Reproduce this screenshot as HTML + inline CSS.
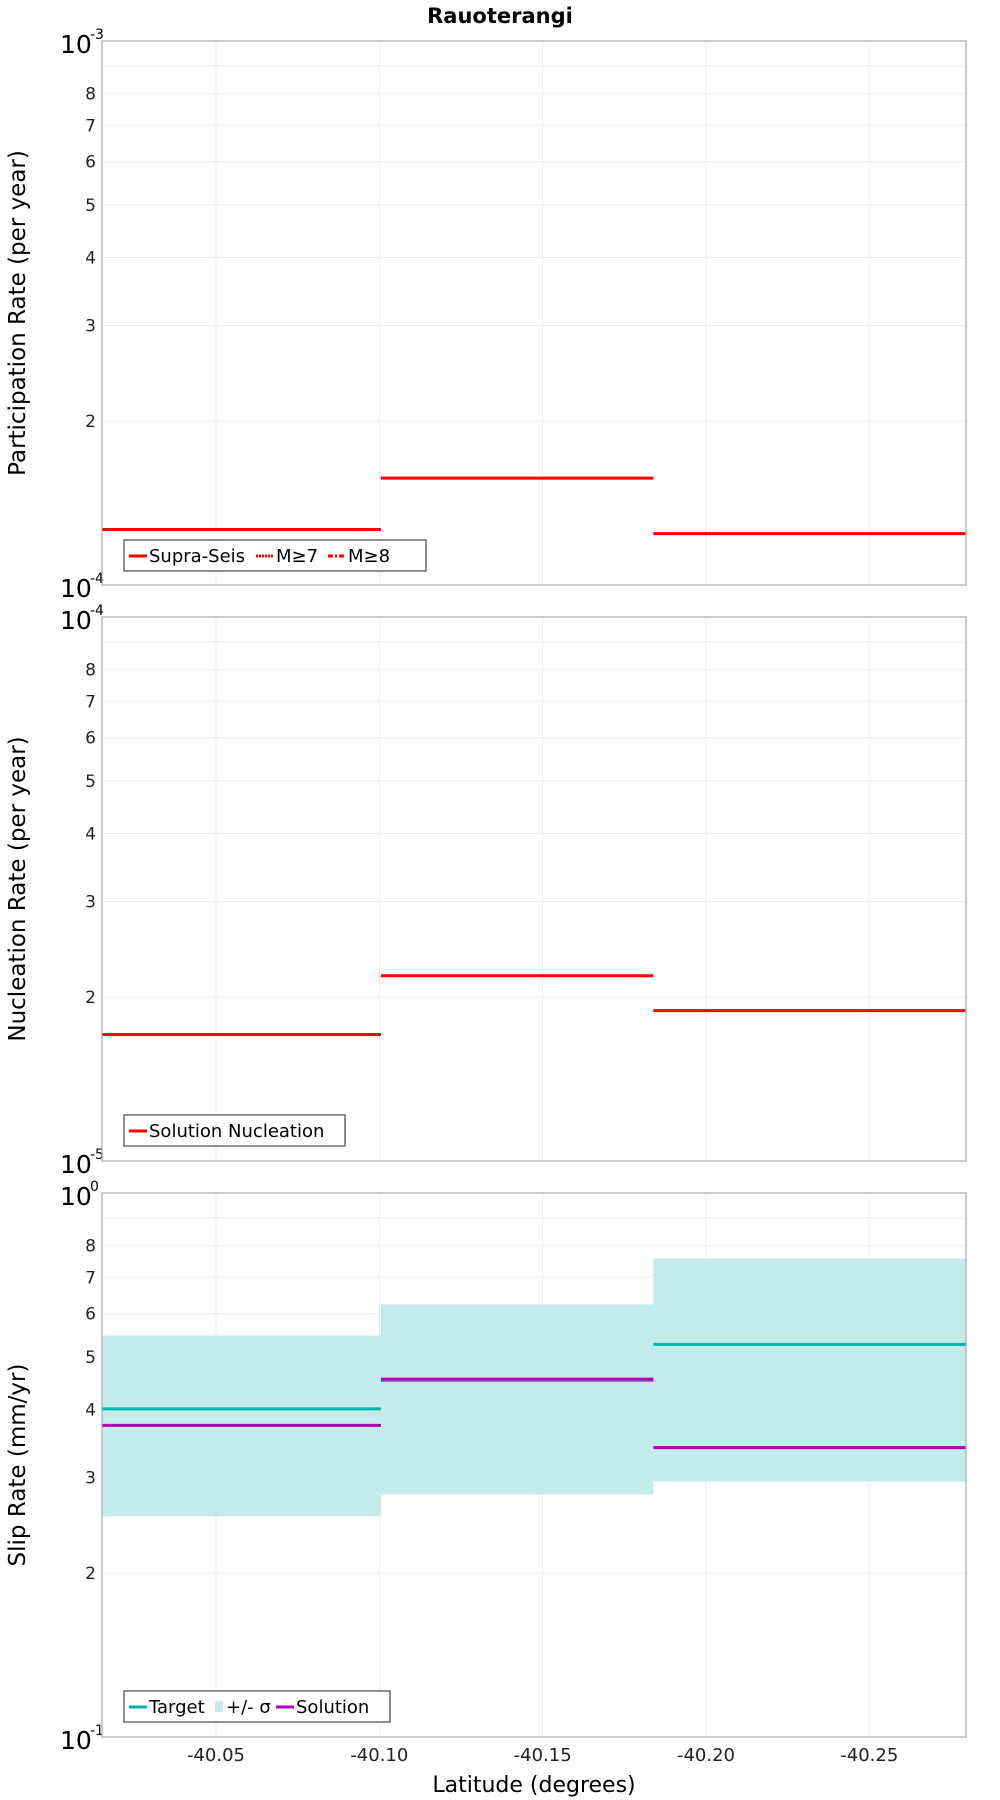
<!DOCTYPE html>
<html><head><meta charset="utf-8"><style>
html,body{margin:0;padding:0;background:#fff;}
svg{display:block;font-family:"DejaVu Sans","Liberation Sans",sans-serif;}
</style></head><body>
<svg id="chart" width="1000" height="1800" viewBox="0 0 1000 1800" xmlns="http://www.w3.org/2000/svg">
<text x="500" y="23" text-anchor="middle" font-size="21" font-weight="bold">Rauoterangi</text>
</svg>
<script>
// data
const latEdges = [-40.0151, -40.1005, -40.1839, -40.2796];
const xTicks = [-40.05, -40.10, -40.15, -40.20, -40.25];
const xTickLabels = ["-40.05", "-40.10", "-40.15", "-40.20", "-40.25"];
const partSupra = [1.265e-4, 1.572e-4, 1.243e-4];
const nuclSolution = [1.708e-5, 2.19e-5, 1.89e-5];
const slipTarget = [0.401, 0.4525, 0.527];
const slipSolution = [0.374, 0.4548, 0.3404];
const slipUpper = [0.547, 0.624, 0.758];
const slipLower = [0.2545, 0.2792, 0.2949];
const minorLabels = ["2","3","4","5","6","7","8"];

const NS = "http://www.w3.org/2000/svg";
const svg = document.getElementById("chart");
function mk(tag, attrs, parent){const e=document.createElementNS(NS,tag);for(const k in attrs)e.setAttribute(k,attrs[k]);(parent||svg).appendChild(e);return e;}
const L=102,R=966,W=R-L;
const xMin=latEdges[0], xMax=latEdges[latEdges.length-1];
function xs(v){return L+(v-xMin)/(xMax-xMin)*W;}

function panel(name, top, bottom, d0, yTitle){
  const g=mk("g",{});
  
  
  const H=bottom-top;
  const ys=v=>bottom-(Math.log10(v)-d0)*H;
  xTicks.forEach(t=>{const ln=mk("line",{x1:xs(t),x2:xs(t),y1:top,y2:bottom,stroke:"#ebebeb","stroke-width":1},g);
    });
  for(let m=2;m<=9;m++){
    const y=ys(m*Math.pow(10,d0));
    const ln=mk("line",{x1:L,x2:R,y1:y,y2:y,stroke:"#ebebeb","stroke-width":1},g);
    
    if(m<=8){const t=mk("text",{x:96,y:y+6,"text-anchor":"end","font-size":17,fill:"#222"},g);t.textContent=minorLabels[m-2];
      }
  }
  [[bottom,d0],[top,d0+1]].forEach(([y,e])=>{
    const t=mk("text",{x:60,y:y+12,"font-size":25,fill:"#000"},g);t.textContent="10";
    
    const s=mk("text",{x:90,y:y-2,"font-size":14,fill:"#000"},g);s.textContent=String(e);
    
  });
  const yt=mk("text",{x:0,y:0,"font-size":23,"text-anchor":"middle",transform:`translate(25,${(top+bottom)/2}) rotate(-90)`},g);
  yt.textContent=yTitle;
  
  return {g,ys,top,bottom};
}
function frame(p,name){const r=mk("rect",{x:L,y:p.top,width:W,height:p.bottom-p.top,fill:"none",stroke:"#aaa","stroke-width":1.2},p.g);
  }
function steps(p,vals,color,name){
  vals.forEach((v,i)=>{const y=p.ys(v);const ln=mk("line",{x1:xs(latEdges[i]),x2:xs(latEdges[i+1]),y1:y,y2:y,stroke:color,"stroke-width":3},p.g);
    });
}
function legend(p,x,y,w,items){
  const g=mk("g",{},p.g);
  
  mk("rect",{x:x,y:y,width:w,height:31,fill:"#fff",stroke:"#555","stroke-width":1.3},g);
  let cx=x+5;
  items.forEach(it=>{
    if(it.box){mk("rect",{x:cx,y:y+10,width:8,height:11,fill:it.color},g);cx+=11;}
    else{mk("line",{x1:cx,x2:cx+18,y1:y+16,y2:y+16,stroke:it.color,"stroke-width":3,"stroke-dasharray":it.dash||"none"},g);cx+=20;}
    const t=mk("text",{x:cx,y:y+22,"font-size":18,fill:"#000"},g);t.textContent=it.label;
    
    cx+=it.w;
  });
}

const p1=panel("participation",41,585,-4,"Participation Rate (per year)");
steps(p1,partSupra,"#ff0000","supra-seis");
frame(p1,"participation");
legend(p1,124,540,302,[{color:"#f00",label:"Supra-Seis",w:107},{color:"#f00",dash:"2,1",label:"M≥7",w:52},{color:"#f00",dash:"5,2,2,2",label:"M≥8",w:50}]);

const p2=panel("nucleation",617,1161,-5,"Nucleation Rate (per year)");
steps(p2,nuclSolution,"#ff0000","solution-nucleation");
frame(p2,"nucleation");
legend(p2,124,1115,221,[{color:"#f00",label:"Solution Nucleation",w:200}]);

const p3=panel("slip-rate",1193,1737,-1,"Slip Rate (mm/yr)");
slipUpper.forEach((u,i)=>{const r=mk("rect",{x:xs(latEdges[i]),y:p3.ys(u),width:xs(latEdges[i+1])-xs(latEdges[i]),height:p3.ys(slipLower[i])-p3.ys(u),fill:"#c2ebea"},p3.g);
  });
steps(p3,slipTarget,"#00b4b4","target");
steps(p3,slipSolution,"#b400b4","solution");
frame(p3,"slip-rate");
legend(p3,124,1691,266,[{color:"#00b4b4",label:"Target",w:66},{color:"#c2ebea",box:true,label:"+/- σ",w:50},{color:"#b400b4",label:"Solution",w:80}]);

xTicks.forEach((t,i)=>{const tx=mk("text",{x:xs(t),y:1761,"text-anchor":"middle","font-size":18,fill:"#222"});
  tx.textContent=xTickLabels[i];
  });
const xt=mk("text",{x:534,y:1792,"text-anchor":"middle","font-size":22});
xt.textContent="Latitude (degrees)";


</script>
</body></html>
